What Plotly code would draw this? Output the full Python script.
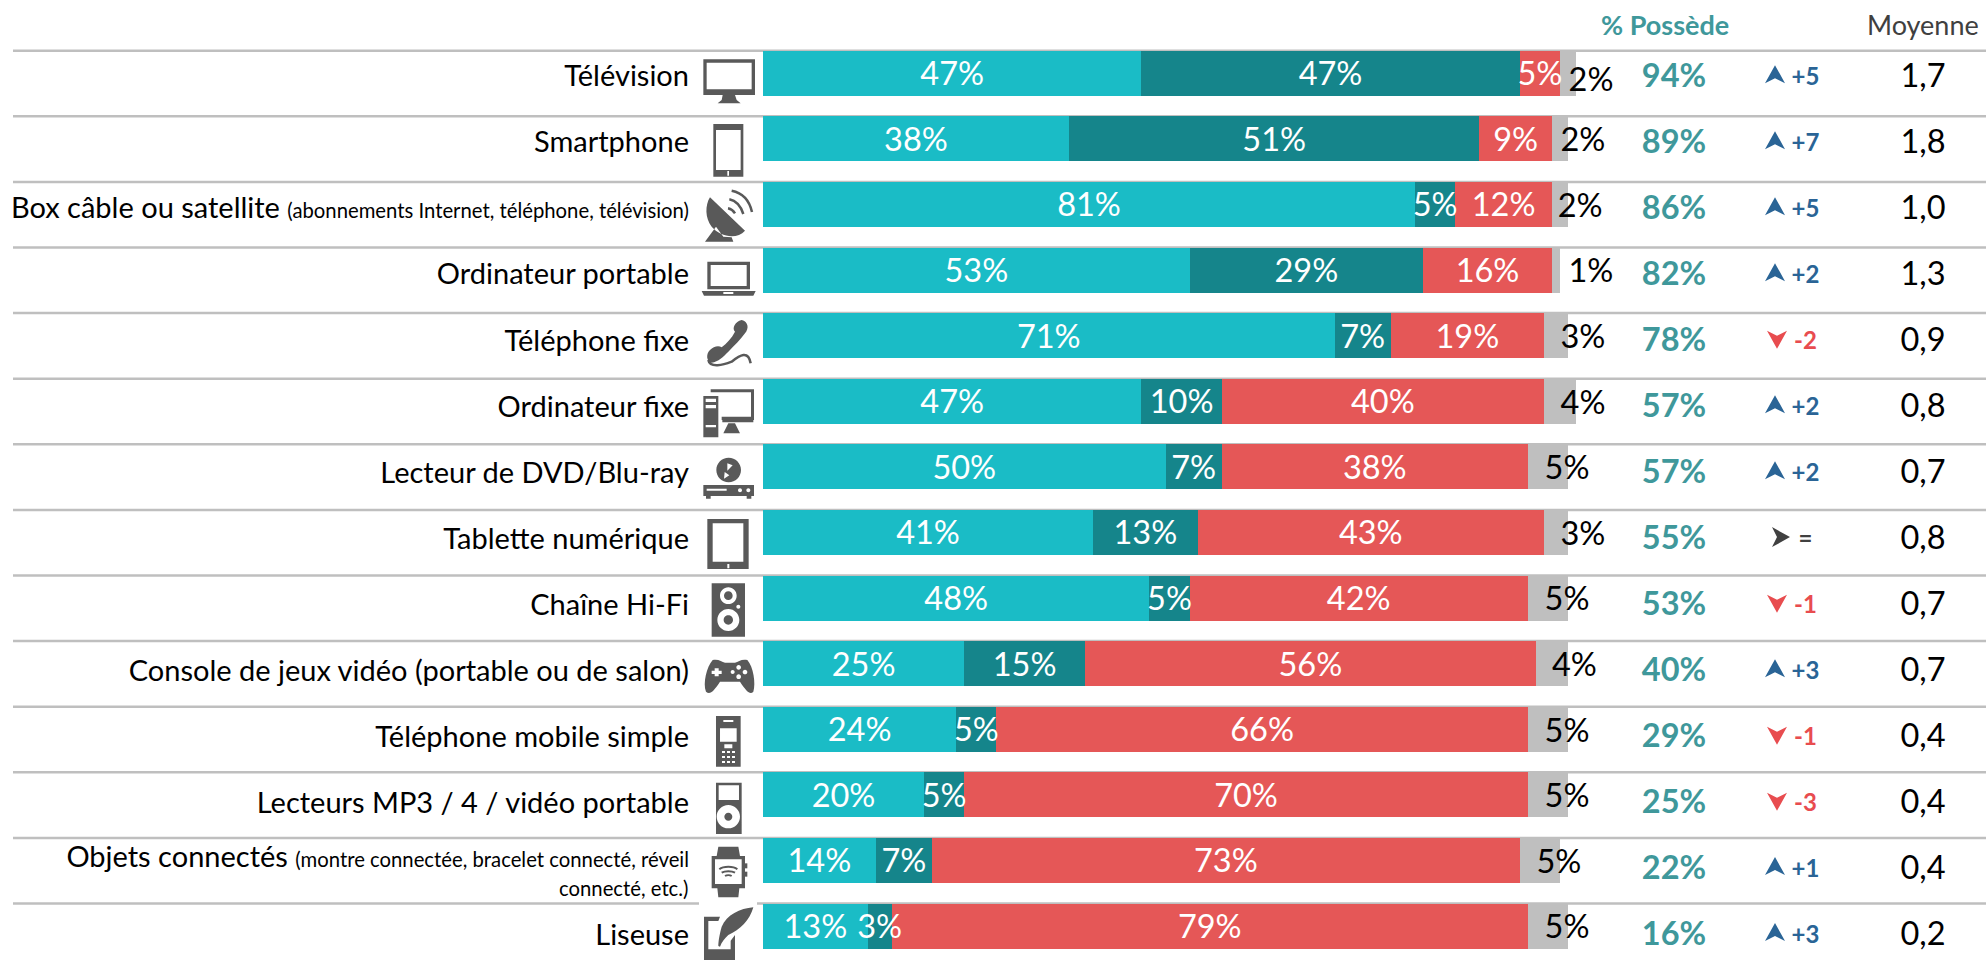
import re
import plotly.graph_objects as go

categories = [
    "Télévision", "Smartphone",
    "Box câble ou satellite <span style='font-size:SUBpx'>(abonnements Internet, téléphone, télévision)</span>",
    "Ordinateur portable", "Téléphone fixe", "Ordinateur fixe", "Lecteur de DVD/Blu-ray",
    "Tablette numérique", "Chaîne Hi-Fi", "Console de jeux vidéo (portable ou de salon)",
    "Téléphone mobile simple", "Lecteurs MP3 / 4 / vidéo portable",
    "Objets connectés <span style='font-size:SUBpx'>(montre connectée, bracelet connecté, réveil</span>",
    "Liseuse",
]
objets_line2 = "connecté, etc.)"
several = [47, 38, 81, 53, 71, 47, 50, 41, 48, 25, 24, 20, 14, 13]
one = [47, 51, 5, 29, 7, 10, 7, 13, 5, 15, 5, 5, 7, 3]
none_ = [5, 9, 12, 16, 19, 40, 38, 43, 42, 56, 66, 70, 73, 79]
nsp = [2, 2, 2, 1, 3, 4, 5, 3, 5, 4, 5, 5, 5, 5]
owned = [94, 89, 86, 82, 78, 57, 57, 55, 53, 40, 29, 25, 22, 16]
delta = [5, 7, 5, 2, -2, 2, 2, 0, -1, 3, -1, -3, 1, 3]
mean = ["1,7", "1,8", "1,0", "1,3", "0,9", "0,8", "0,7", "0,8", "0,7", "0,7", "0,4", "0,4", "0,4", "0,2"]

W, H = 1986, 960
X0, PX_PER = 763.0, 8.05
Y0, PITCH = 73.2, 65.6
CYAN, DARK, RED, GRAY = "#1abcc6", "#15858b", "#e55757", "#bfbfbf"
TEAL, BLUE, DOWN, NEUT = "#3f989b", "#2a6496", "#e84c4f", "#404040"
FONT = "Lato"
MAIN, SUB, LBL = 29, 20.3, 32.5

def xd(px):
    return (px - X0) / PX_PER

rows = list(range(len(categories)))
gray_shift = [1.86, 1.86, 1.5, 3.85, 1.86, .87, -.12, 1.86, -.12, .8, -.12, -.12, -.12, -.12]
gray_dy = [.155] + [.065] * 13
tick_dy = [.045 + .0069 * r for r in rows]
tick_dy[12] = -.05
col_y = [r + .088 + .0061 * r for r in rows]

fig = go.Figure()
base = [0] * len(rows)
label_x, label_y, label_t = [], [], []
for name, vals, col in [("Plusieurs", several, CYAN), ("Un seul", one, DARK), ("Aucun", none_, RED)]:
    fig.add_bar(y=rows, x=vals, orientation="h", name=name, marker=dict(color=col, line_width=0), width=.686)
    label_x += [b + v / 2 for b, v in zip(base, vals)]
    label_y += [r + .06 for r in rows]
    label_t += [f"{v}%" for v in vals]
    base = [b + v for b, v in zip(base, vals)]
fig.add_bar(y=rows, x=nsp, orientation="h", name="NSP", marker=dict(color=GRAY, line_width=0), width=.686)

# segment labels sit above all bars, so a label wider than its segment stays whole
fig.add_scatter(x=label_x, y=label_y, mode="text", text=label_t, textposition="middle center", cliponaxis=False,
                textfont=dict(family=FONT, size=LBL, color="white"))

totals = [a + b + c + d for a, b, c, d in zip(several, one, none_, nsp)]
fig.add_scatter(x=[t + s for t, s in zip(totals, gray_shift)], y=[r + d for r, d in zip(rows, gray_dy)],
                mode="text", text=[f"{v}%" for v in nsp], textposition="middle center", cliponaxis=False,
                textfont=dict(family=FONT, size=LBL, color="black"))
fig.add_scatter(x=[xd(1674)] * 14, y=col_y, mode="text", text=[f"<b>{v}%</b>" for v in owned],
                textposition="middle center", textfont=dict(family=FONT, size=LBL, color=TEAL))
fig.add_scatter(x=[xd(1923)] * 14, y=col_y, mode="text", text=mean,
                textposition="middle center", textfont=dict(family=FONT, size=LBL, color="black"))
arrow_col = [BLUE if d > 0 else DOWN if d < 0 else NEUT for d in delta]
delta_txt = [f"<b>{d:+d}</b>" if d else "<b>=</b>" for d in delta]
fig.add_scatter(x=[xd(1805.5)] * 14, y=col_y, mode="text", text=delta_txt,
                textposition="middle center", textfont=dict(family=FONT, size=24, color=arrow_col))

shapes = []
# trend arrows, anchored on the data rows, sized in pixels
ARROWS = {1: "M0 9 L10 -9 L0 -4 L-10 -9 Z", -1: "M0 -9 L10 9 L0 4 L-10 9 Z", 0: "M9 0 L-9 10 L-4 0 L-9 -10 Z"}
for r, d, c in zip(rows, delta, arrow_col):
    s = (d > 0) - (d < 0)
    shapes.append(dict(type="path", xref="x", yref="y", xsizemode="pixel", ysizemode="pixel",
                       xanchor=xd({1: 1775, -1: 1777, 0: 1781}[s]),
                       yanchor=r + {1: .015, -1: .04, 0: .03}[s] + .006 * r,
                       path=ARROWS[s], fillcolor=c, line_width=0, layer="above"))

# ---- icons, drawn in zoomed-pixel units (3x) around a local origin
def rect(a, b, c, d): return f"M{a} {b} L{c} {b} L{c} {d} L{a} {d} Z "
def circ(x, y, r):
    k = .5523 * r
    return (f"M{x+r} {y} C{x+r} {y+k} {x+k} {y+r} {x} {y+r} C{x-k} {y+r} {x-r} {y+k} {x-r} {y} "
            f"C{x-r} {y-k} {x-k} {y-r} {x} {y-r} C{x+k} {y-r} {x+r} {y-k} {x+r} {y} Z ")

def to_paper(path, oy):
    nums = iter(re.findall(r"[A-Z]|-?\d+\.?\d*", path))
    out, is_x = [], True
    for tok in nums:
        if tok.isalpha():
            out.append(tok); is_x = True
        elif is_x:
            out.append(f"{(690 + float(tok) / 3) / W:.5f}"); is_x = False
        else:
            out.append(f"{1 - (oy + float(tok) / 3) / H:.5f}"); is_x = True
    return " ".join(out)

ICON = "#595959"
def icon(oy, path, stroke=None):
    d = dict(type="path", xref="paper", yref="paper", path=to_paper(path, oy), layer="above")
    if stroke:
        d.update(line=dict(color=ICON, width=stroke), fillcolor="rgba(0,0,0,0)")
    else:
        d.update(line_width=0, fillcolor=ICON)
    shapes.append(d)

# grey row rules
for i in rows:
    y = i - .343
    segs = [(13, W)] if i < 13 else [(13, 699), (757, W)]
    for a, b in segs:
        shapes.append(dict(type="line", xref="paper", yref="y", x0=a / W, x1=b / W, y0=y, y1=y, layer="below",
                           line=dict(color=GRAY, width=2.5)))

# TV
icon(40, rect(40, 58, 195, 165) + rect(50, 68, 185, 148) + "M98 165 L135 165 L140 180 L152 190 L83 190 L95 180 Z")
# smartphone
icon(40, rect(70, 252, 160, 410) + rect(78, 270, 152, 390) + rect(112, 393, 117, 407))
# dish
icon(40, "M60 472 L165 572 C140 600 90 590 65 560 C45 535 45 495 60 472 Z M78 560 L45 605 L130 605 L125 592 L100 590 Z")
icon(40, "M125 452 C155 458 178 480 186 516", 2.5)
icon(40, "M118 478 C138 482 152 498 160 522", 2.5)
icon(40, "M114 505 C124 507 130 512 135 520", 2.5)
# laptop
icon(240, rect(52, 65, 180, 148) + rect(62, 75, 170, 138) + "M35 153 L197 153 L190 167 L42 167 Z" + rect(100, 156, 130, 162))
# landline
icon(240, "M155 240 C175 245 178 265 165 280 C150 300 135 315 115 335 C100 350 85 365 65 368 C48 365 48 340 60 330 "
          "C70 320 85 315 95 322 C110 310 125 295 135 275 C125 265 135 245 155 240 Z")
icon(240, "M55 360 C60 385 100 375 125 365 C150 345 175 330 182 370", 2.5)
# desktop
icon(240, rect(40, 468, 85, 592) + rect(47, 476, 78, 486) + rect(47, 495, 78, 505) + rect(47, 555, 78, 562))
icon(240, "M62 448 L192 448 L192 540 L95 540 L95 530 L183 530 L183 457 L62 457 Z")
icon(240, rect(97, 537, 190, 547) + "M115 550 L135 550 L150 580 L100 580 Z")
# DVD
icon(440, circ(116, 90, 37) + "M112 70 L128 76 L112 92 Z M104 96 L118 106 L102 116 Z")
icon(440, rect(40, 135, 192, 168) + rect(50, 146, 110, 152) + circ(150, 151, 6) + circ(175, 151, 6)
     + rect(48, 168, 62, 176) + rect(170, 168, 184, 176))
# tablet
icon(440, rect(52, 237, 176, 387) + rect(68, 250, 160, 365) + rect(112, 372, 118, 385))
# speaker
icon(440, rect(65, 430, 165, 590) + circ(115, 467, 25) + circ(115, 467, 13) + circ(115, 540, 33) + circ(115, 540, 14) + circ(145, 500, 6))
# gamepad
icon(440, "M68 660 C85 656 95 665 105 668 L135 668 C145 665 155 656 172 660 C190 680 198 730 190 755 C180 765 170 755 150 725 "
          "L90 725 C70 755 60 765 48 755 C38 730 50 680 68 660 Z "
          "M74 685 L86 685 L86 692 L95 692 L95 702 L86 702 L86 709 L74 709 L74 702 L65 702 L65 692 L74 692 Z "
          + circ(146, 682, 7) + circ(165, 696, 7) + circ(146, 710, 7) + circ(128, 696, 6))
# mobile
keys = "".join(rect(x, y, x + 9, y + 6) for x in (96, 111, 126) for y in (153, 168, 183))
icon(700, rect(78, 48, 152, 200) + rect(90, 85, 140, 125) + rect(100, 60, 130, 66) + rect(103, 133, 127, 145) + keys)
# mp3
icon(700, rect(78, 248, 155, 402) + rect(86, 256, 147, 300) + circ(115, 350, 35) + circ(115, 350, 12))
# watch
icon(700, "M85 440 L145 440 L150 468 L80 468 Z M82 565 L148 565 L145 592 L85 592 Z" + rect(65, 468, 165, 565) + rect(75, 478, 155, 552))
icon(700, rect(165, 490, 172, 505))
icon(700, rect(165, 515, 172, 530))
icon(700, "M88 508 C100 498 130 498 142 508", 2)
icon(700, "M95 518 C105 512 125 512 135 518", 2)
icon(700, "M105 528 C110 525 120 525 125 528", 2)
# e-reader
icon(700, "M42 650 L90 650 L85 663 L55 663 L55 748 L122 748 L122 722 L135 705 L135 780 L42 780 Z")
icon(700, "M190 622 C150 625 110 645 95 680 C88 705 85 725 85 738 L90 740 C95 725 105 715 115 705 C150 690 180 660 190 622 Z")

ticktext = [c.replace("SUB", str(SUB)) for c in categories]
fig.update_layout(
    width=W, height=H, margin=dict(l=0, r=0, t=0, b=0), autosize=False, showlegend=False,
    paper_bgcolor="white", plot_bgcolor="rgba(0,0,0,0)", barmode="stack", bargap=0, shapes=shapes,
    xaxis=dict(domain=[X0 / W, 1], range=[0, (W - X0) / PX_PER], visible=False, fixedrange=True),
    yaxis=dict(range=[(H - Y0) / PITCH, -Y0 / PITCH], tickmode="array", showgrid=False, zeroline=False, showline=False,
               tickvals=[r + d for r, d in zip(rows, tick_dy)], ticktext=ticktext, ticks="", ticklabelstandoff=73,
               tickfont=dict(family=FONT, size=MAIN, color="black"), automargin=False, fixedrange=True),
    annotations=[
        dict(text="<b>% Possède</b>", xref="x", yref="paper", x=xd(1665), y=1 - 24 / H, yanchor="middle", showarrow=False,
             font=dict(family=FONT, size=27, color=TEAL)),
        dict(text="Moyenne", xref="x", yref="paper", x=xd(1923), y=1 - 24 / H, yanchor="middle", showarrow=False,
             font=dict(family=FONT, size=27, color=NEUT)),
        dict(text=objets_line2, xref="paper", yref="paper", x=689 / W, y=1 - 888 / H, xanchor="right", yanchor="middle",
             xshift=2, showarrow=False, font=dict(family=FONT, size=SUB, color="black")),
    ],
)
fig.write_html("out.html", post_script="document.body.style.margin='0';", config=dict(displayModeBar=False))
